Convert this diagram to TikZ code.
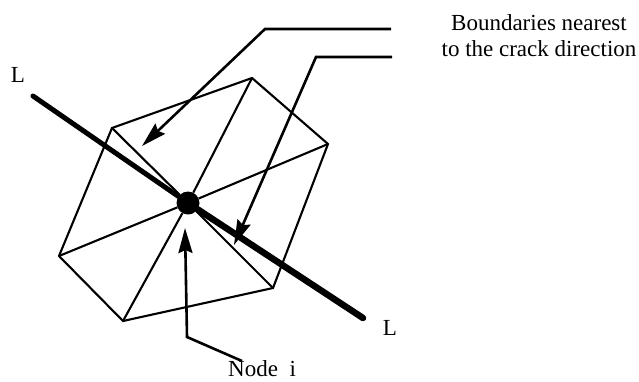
\documentclass[tikz,border=0pt]{standalone}
\usepackage{fontspec}
\setmainfont{Liberation Serif}
\usetikzlibrary{arrows.meta}

\begin{document}
\begin{tikzpicture}[x=1pt, y=-1pt,
      edge/.style={line width=2.1pt, black},
      crack/.style={line width=#1, line cap=round, black},
      arr/.style={-{Stealth[length=25pt, width=14pt, inset=3pt]}, line width=2.6pt, black},
      lab/.style={font=\fontsize{23}{26}\selectfont, inner sep=0pt}]
    \useasboundingbox (0,0) rectangle (639,381);
    % mesh around the node
    \coordinate (top) at (252,78);
    \coordinate (lefttop) at (112,128);
    \coordinate (left) at (59,256);
    \coordinate (bottom) at (123,321);
    \coordinate (rightbot) at (273,288);
    \coordinate (right) at (328,144);
    \coordinate (crackA) at (33,96);
    \coordinate (crackB) at (363,318);
    \node[circle, fill=black, minimum size=23pt, inner sep=0pt] (nodei) at (188,203) {};
    \draw[edge] (top) -- (lefttop) -- (left) -- (bottom) -- (rightbot) -- (right) -- cycle;
    \foreach \v in {top,lefttop,left,bottom,rightbot,right}
      \draw[edge] (nodei) -- (\v);
    \draw[crack=5pt] (crackA) -- (nodei);
    \draw[crack=6.5pt] (nodei) -- (crackB);
    % labels
    \node[lab] (lone) at (18,75) {L};
    \node[lab] (ltwo) at (390,328) {L};
    \node[lab, align=center] (bound) at (539,36) {Boundaries nearest\\to the crack direction};
    \node[lab, anchor=base west] (nodelab) at (228,376) {Node\ \ i};
    % arrows
    \coordinate (aone) at (391,29);
    \coordinate (bone) at (265,29);
    \coordinate (tipone) at (142,146);
    \coordinate (atwo) at (392,57);
    \coordinate (btwo) at (316,57);
    \coordinate (tiptwo) at (234,245);
    \coordinate (athree) at (242,361);
    \coordinate (bthree) at (187,337);
    \coordinate (tipthree) at (185,228);
    \draw[arr] (aone) -- (bone) -- (tipone);
    \draw[arr] (atwo) -- (btwo) -- (tiptwo);
    \draw[arr] (athree) -- (bthree) -- (tipthree);
  \end{tikzpicture}
\end{document}
